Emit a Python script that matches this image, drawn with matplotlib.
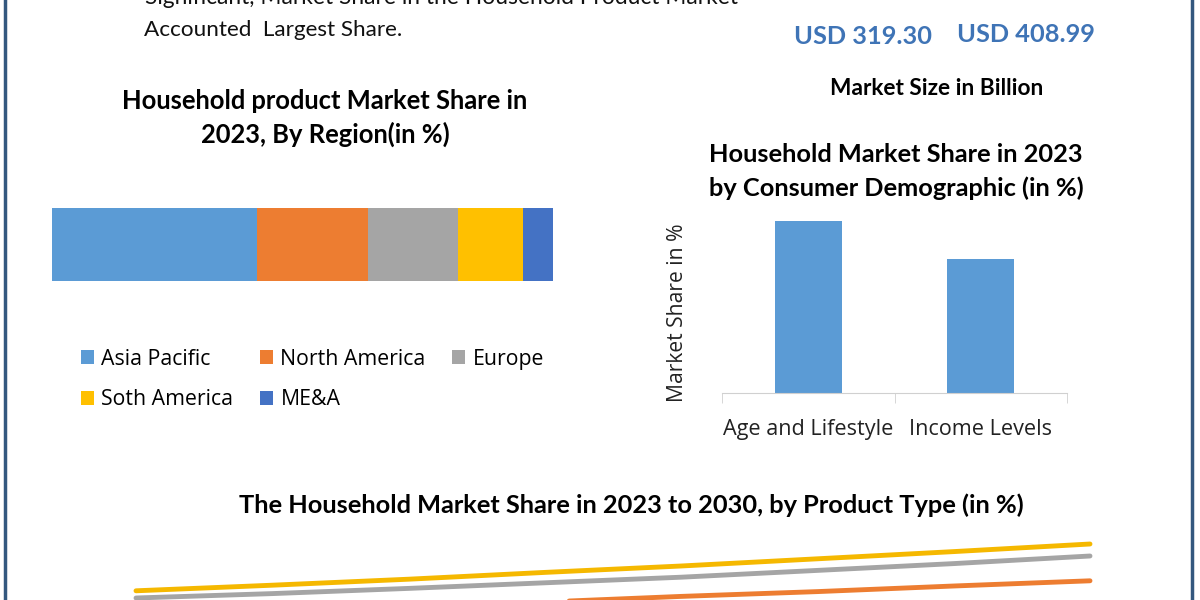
import matplotlib
matplotlib.use("Agg")
import matplotlib.pyplot as plt
from matplotlib.lines import Line2D
from matplotlib.patches import Patch

# region share 2023 (%)
regions = ["Asia Pacific", "North America", "Europe", "Soth America", "ME&A"]
region_share = [41, 22, 18, 13, 6]
region_colors = ["#5b9bd5", "#ed7d31", "#a5a5a5", "#ffc000", "#4472c4"]

# consumer demographic share 2023 (%)
demo_labels = ["Age and Lifestyle", "Income Levels"]
demo_share = [45, 35]

# product type trend 2023-2030 (%)
years = [2023, 2024, 2025, 2026, 2027, 2028, 2029, 2030]
prod_yellow = [17.3, 18.7, 20.2, 21.9, 23.5, 25.3, 27.1, 29.0]
prod_gray = [15.5, 16.6, 17.9, 19.3, 20.7, 22.4, 24.1, 26.0]
prod_orange = [11.3, 12.3, 13.4, 14.5, 15.9, 17.1, 18.5, 19.8]

market_size = ["USD 319.30", "USD 408.99"]

W, H = 1200, 600
fig = plt.figure(figsize=(12, 6), dpi=100)
fig.patch.set_facecolor("white")

title_font = "Lato"
body_font = "Open Sans"


def fx(px):
    return px / W


def fy(py):
    return 1 - py / H


# border lines
for x in (5, 1192):
    fig.add_artist(Line2D([fx(x), fx(x)], [0, 1], color="#34587f", lw=2.5))

# header text (cut at top, as in the source image)
fig.text(fx(145), fy(-2), "Significant, Market Share in the Household Product Market",
         fontsize=16.4, family=title_font, va="center", ha="left", color="#111111")
fig.text(fx(144), fy(30), "Accounted  Largest Share.",
         fontsize=16.2, family=title_font, va="center", ha="left", color="#111111")

fig.text(fx(863), fy(36), market_size[0], fontsize=18.3, family=title_font,
         weight="bold", color="#3f74b6", ha="center", va="center")
fig.text(fx(1026), fy(34), market_size[1], fontsize=18.3, family=title_font,
         weight="bold", color="#3f74b6", ha="center", va="center")
fig.text(fx(937), fy(88), "Market Size in Billion", fontsize=16.3, family=title_font,
         weight="bold", ha="center", va="center")

# ---- stacked region bar ----
fig.text(fx(325), fy(101), "Household product Market Share in", fontsize=18.4,
         family=title_font, weight="bold", ha="center", va="center")
fig.text(fx(325), fy(134), "2023, By Region(in %)", fontsize=18.4,
         family=title_font, weight="bold", ha="center", va="center")

ax1 = fig.add_axes([fx(52), fy(281), fx(501), 73 / H])
left = 0
for share, col in zip(region_share, region_colors):
    ax1.barh(0, share, left=left, height=1, color=col)
    left += share
ax1.set_xlim(0, sum(region_share))
ax1.set_ylim(-0.5, 0.5)
ax1.axis("off")

handles = [Patch(facecolor=c) for c in region_colors]
order = [0, 3, 1, 4, 2]
fig.legend([handles[i] for i in order], [regions[i] for i in order],
           ncol=3, loc="upper left", bbox_to_anchor=(fx(70), fy(338)),
           frameon=False, prop={"family": body_font, "size": 15.3},
           handlelength=0.62, handleheight=0.62, handletextpad=0.35,
           columnspacing=1.25, labelspacing=0.92, borderpad=0)

# ---- demographic bars ----
fig.text(fx(896), fy(155), "Household Market Share in 2023", fontsize=18.3,
         family=title_font, weight="bold", ha="center", va="center")
fig.text(fx(896), fy(188), "by Consumer Demographic (in %)", fontsize=18.3,
         family=title_font, weight="bold", ha="center", va="center")

ax2 = fig.add_axes([fx(722), fy(392.7), fx(345), 191 / H])
ax2.bar(range(len(demo_share)), demo_share, width=0.39, color="#5b9bd5")
ax2.set_xlim(-0.5, 1.5)
ax2.set_ylim(0, 50)
for s in ("top", "right", "left"):
    ax2.spines[s].set_visible(False)
ax2.spines["bottom"].set_color("#d0d0d0")
ax2.set_yticks([])
ax2.set_xticks(range(len(demo_labels)))
ax2.set_xticklabels(demo_labels, family=body_font, fontsize=15.6, color="#222222")
ax2.tick_params(axis="x", which="major", length=0, pad=19)
ax2.set_xticks([-0.5, 0.5, 1.5], minor=True)
ax2.tick_params(axis="x", which="minor", length=7, color="#d0d0d0")
fig.text(fx(678), fy(313), "Market Share in %", rotation=90, fontsize=15.2,
         family=body_font, ha="center", va="center", color="#222222")

# ---- product type lines ----
fig.text(fx(631), fy(505), "The Household Market Share in 2023 to 2030, by Product Type (in %)",
         fontsize=18.3, family=title_font, weight="bold", ha="center", va="center")

ax3 = fig.add_axes([fx(136), fy(660), fx(954), 160 / H])
ax3.plot(years, prod_yellow, color="#f5b800", lw=3.5, solid_capstyle="round")
ax3.plot(years, prod_gray, color="#a5a5a5", lw=3.5, solid_capstyle="round")
ax3.plot(years, prod_orange, color="#ed7d31", lw=3.5, solid_capstyle="round")
ax3.set_xlim(years[0], years[-1])
ax3.set_ylim(0, 40)
ax3.axis("off")
for ln in ax3.lines:
    ln.set_clip_on(False)

fig.savefig("out.png", dpi=100)
